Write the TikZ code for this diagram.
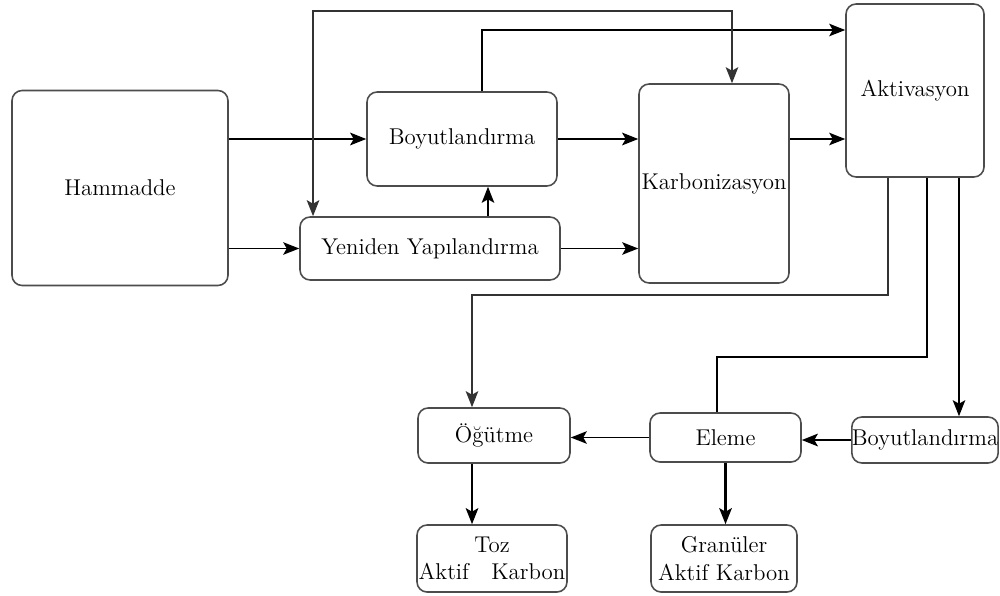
\documentclass[tikz,border=0pt]{standalone}
\usepackage{fontspec}
\usetikzlibrary{arrows.meta}

\begin{document}
\begin{tikzpicture}[x=0.02cm, y=-0.02cm, font=\fontsize{13}{15.5}\selectfont,
  >={Stealth[length=3.2mm, width=2.5mm, inset=0.7mm]},
  kutu/.style={draw=black!70, line width=0.9pt, rounded corners=0.2cm, align=center, inner sep=0pt, fill=white},
  ok/.style={->, line width=1pt},
  kalin/.style={line width=1.5pt},
  gri/.style={draw=black!80, line width=1.2pt}]
  \useasboundingbox (0,0) rectangle (1000,595);
  % upper row: raw material to activation
  \node[kutu, minimum width=4.32cm, minimum height=3.9cm] (ham) at (120,188) {Hammadde};
  \node[kutu, minimum width=3.8cm, minimum height=1.88cm] (boy1) at (462,139) {Boyutlandırma};
  \node[kutu, minimum width=5.2cm, minimum height=1.26cm] (yen) at (430,248.5) {Yeniden Yapılandırma};
  \node[kutu, minimum width=3.0cm, minimum height=3.98cm] (kar) at (714,183.5) {Karbonizasyon};
  \node[kutu, minimum width=2.76cm, minimum height=3.46cm] (akt) at (915,90.5) {Aktivasyon};
  % lower row: grinding, screening, sizing and the two products
  \node[kutu, minimum width=3.04cm, minimum height=1.1cm] (ogu) at (494,435.5) {Öğütme};
  \node[kutu, minimum width=3.02cm, minimum height=0.98cm] (ele) at (725.5,437.5) {Eleme};
  \node[kutu, minimum width=2.88cm, minimum height=0.92cm] (boy2) at (925,440) {Boyutlandırma};
  \node[kutu, minimum width=3.0cm, minimum height=1.34cm] (toz) at (492,558.5) {Toz\\Aktif\ \ \ Karbon};
  \node[kutu, minimum width=2.92cm, minimum height=1.34cm] (gra) at (724,558.5) {Granüler\\Aktif Karbon};
  % corners of the return lines
  \coordinate (ust) at (520,11);
  \coordinate (orta) at (680,295);
  \coordinate (alt) at (820,357);
  % main flow
  \draw[ok, kalin] (ham.east |- boy1.west) -- (boy1.west);
  \draw[ok] (ham.east |- yen.west) -- (yen.west);
  \draw[ok] ([xshift=1.16cm]yen.north) -- ([xshift=1.16cm]yen.north |- boy1.south);
  \draw[ok, kalin] (boy1.east) -- (boy1.east -| kar.west);
  \draw[ok] (yen.east) -- (yen.east -| kar.west);
  \draw[ok] ([yshift=0.89cm]kar.east) -- ([yshift=0.89cm]kar.east -| akt.west);
  \draw[ok] ([xshift=0.4cm]boy1.north) |- ([yshift=1.21cm]akt.west);
  \draw[ok, gri, <->] ([xshift=-2.34cm]yen.north) |- (ust) -| ([xshift=0.36cm]kar.north);
  % outputs of activation
  \draw[ok, gri] ([xshift=-0.54cm]akt.south) |- (orta) -| ([xshift=-0.44cm]ogu.north);
  \draw[line width=1pt] ([xshift=0.24cm]akt.south) |- (alt) -| ([xshift=-0.17cm]ele.north);
  \draw[ok] ([xshift=0.88cm]akt.south) -- ([xshift=0.88cm]akt.south |- boy2.north);
  \draw[ok, kalin] (boy2.west) -- (boy2.west -| ele.east);
  \draw[ok] (ele.west) -- (ele.west -| ogu.east);
  \draw[ok, kalin] ([xshift=-0.44cm]ogu.south) -- ([xshift=-0.44cm]ogu.south |- toz.north);
  \draw[ok, kalin] (ele.south) -- (ele.south |- gra.north);
\end{tikzpicture}
\end{document}
